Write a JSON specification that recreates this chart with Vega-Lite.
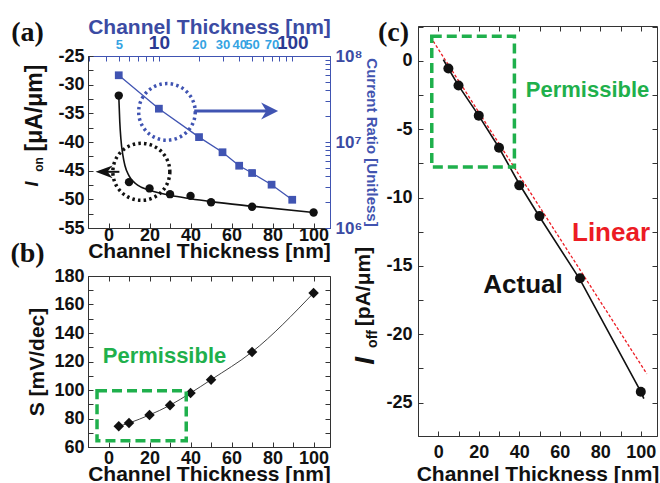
{
  "$schema": "https://vega.github.io/schema/vega-lite/v6.json",
  "background": "white",
  "padding": {"left": 9, "top": 15, "right": 0, "bottom": 0},
  "config": {
    "font": "Liberation Sans",
    "view": {"stroke": "#333", "strokeWidth": 1},
    "axis": {
      "labelFont": "Liberation Sans", "labelFontSize": 18, "labelFontWeight": "bold", "labelColor": "#111",
      "titleFont": "Liberation Sans", "titleFontSize": 21, "titleFontWeight": "bold", "titleColor": "#111",
      "domainColor": "#333", "tickColor": "#333", "tickSize": -5, "grid": false,
      "labelFlush": false, "labelOverlap": false
    },
    "text": {"font": "Liberation Sans"}
  },
  "datasets": {
    "a_on": [{"t":5,"v":-31.9},{"t":10,"v":-47.0},{"t":20,"v":-48.1},{"t":30,"v":-49.1},{"t":40,"v":-49.4},{"t":50,"v":-50.5},{"t":70,"v":-51.3},{"t":100,"v":-52.3}],
    "a_fit": [{"t":5,"v":-31.9},{"t":5.5,"v":-36.5},{"t":6,"v":-39.3},{"t":7,"v":-42.3},{"t":8,"v":-44.1},{"t":10,"v":-45.9},{"t":13,"v":-47.2},{"t":16,"v":-47.9},{"t":20,"v":-48.4},{"t":30,"v":-49.3},{"t":40,"v":-49.9},{"t":50,"v":-50.4},{"t":70,"v":-51.2},{"t":100,"v":-52.3}],
    "a_ratio": [{"t":5,"r":59700000},{"t":10,"r":24400000},{"t":20,"r":11400000},{"t":30,"r":7600000},{"t":40,"r":5300000},{"t":50,"r":4360000},{"t":70,"r":3190000},{"t":100,"r":2130000}],
    "a_ann": [
      {"kind":"circB","t":28.5,"v":-34.75},
      {"kind":"circK","t":16,"v":-45.2},
      {"kind":"shaftB","t":41.8,"t2":80,"v":-34.6},
      {"kind":"headB","t":82.7,"v":-34.6},
      {"kind":"shaftK","t":5.3,"t2":-4.5,"v":-45.2},
      {"kind":"headK","t":-6.3,"v":-45.2}
    ],
    "a_txt": [
      {"kind":"panel","t":-39.5,"v":-21.0,"s":"(a)"},
      {"kind":"I","t":-36.8,"v":-47.33,"s":"I"},
      {"kind":"sub","t":-34.0,"v":-43.93,"s":"on"},
      {"kind":"unit","t":-35.6,"v":-34.07,"s":"[μA/μm]"}
    ],
    "b_s": [{"t":5,"v":74.5},{"t":10,"v":76.8},{"t":20,"v":82.5},{"t":30,"v":89.3},{"t":40,"v":97.9},{"t":50,"v":107.2},{"t":70,"v":126.7},{"t":100,"v":168.1}],
    "b_rect": [{"t":-5.6,"t2":37.9,"v":64.4,"v2":99.5}],
    "b_txt": [
      {"kind":"panel","t":-39.5,"v":195.1,"s":"(b)"},
      {"kind":"perm","t":27.3,"v":123.6,"s":"Permissible"}
    ],
    "c_pts": [{"t":5,"v":-0.55},{"t":10,"v":-1.8},{"t":20,"v":-4.0},{"t":30,"v":-6.35},{"t":40,"v":-9.1},{"t":50,"v":-11.35},{"t":70,"v":-15.9},{"t":100,"v":-24.2}],
    "c_act": [{"t":2.5,"v":0.1},{"t":5,"v":-0.55},{"t":10,"v":-1.8},{"t":20,"v":-4.0},{"t":30,"v":-6.35},{"t":40,"v":-9.0},{"t":50,"v":-11.4},{"t":70,"v":-16.0},{"t":100,"v":-24.2},{"t":101.5,"v":-24.7}],
    "c_lin": [{"t":-2.5,"v":1.45},{"t":103,"v":-22.9}],
    "c_rect": [{"t":-3.2,"t2":37.6,"v":-7.76,"v2":1.81}],
    "c_txt": [
      {"kind":"panel","t":-22.1,"v":2.05,"s":"(c)"},
      {"kind":"perm","t":73.7,"v":-2.1,"s":"Permissible"},
      {"kind":"lin","t":85.3,"v":-12.6,"s":"Linear"},
      {"kind":"act","t":41.85,"v":-16.4,"s":"Actual"},
      {"kind":"I","t":-35.68,"v":-21.95,"s":"I"},
      {"kind":"sub","t":-32.22,"v":-20.34,"s":"off"},
      {"kind":"unit","t":-36.67,"v":-16.5,"s":"[pA/μm]"}
    ]
  },
  "spacing": -29,
  "hconcat": [
    {
      "bounds": "flush",
      "spacing": 0,
      "vconcat": [
        {"width": 242, "height": 30, "data": {"values": []}, "mark": "point", "view": {"stroke": null}},
        {
          "bounds": "flush",
          "spacing": 48,
          "vconcat": [
            {
              "width": 242, "height": 172,
              "resolve": {"scale": {"x": "independent", "y": "independent"}, "axis": {"x": "independent", "y": "independent"}},
              "layer": [
                {
                  "encoding": {
                    "x": {"field": "t", "type": "quantitative", "scale": {"domain": [-10, 108], "nice": false, "zero": false},
                      "axis": {"orient": "bottom", "title": "Channel Thickness [nm]", "values": [0,10,20,30,40,50,60,70,80,90,100],
                        "labelExpr": "datum.value % 20 == 0 ? '' + datum.value : ''", "labelPadding": 3, "titlePadding": -4}},
                    "y": {"field": "v", "type": "quantitative", "scale": {"domain": [-55, -25], "nice": false, "zero": false},
                      "axis": {"orient": "left", "title": null, "values": [-55,-52.5,-50,-47.5,-45,-42.5,-40,-37.5,-35,-32.5,-30,-27.5,-25],
                        "labelExpr": "datum.value % 5 == 0 ? '' + datum.value : ''", "labelPadding": 9}}
                  },
                  "layer": [
                    {"data": {"name": "a_fit"}, "mark": {"type": "line", "color": "#111", "strokeWidth": 1.6, "interpolate": "monotone"}},
                    {"data": {"name": "a_on"}, "mark": {"type": "point", "shape": "circle", "filled": true, "color": "#111", "size": 70, "opacity": 1}},
                    {"data": {"name": "a_ann"}, "transform": [{"filter": "datum.kind == 'circB'"}],
                      "mark": {"type": "point", "shape": "circle", "filled": false, "color": "#4054b2", "size": 3200, "strokeWidth": 3.5, "strokeDash": [2.5, 3.2], "opacity": 1}},
                    {"data": {"name": "a_ann"}, "transform": [{"filter": "datum.kind == 'circK'"}],
                      "mark": {"type": "point", "shape": "circle", "filled": false, "color": "#111", "size": 3250, "strokeWidth": 3.5, "strokeDash": [2.5, 3.2], "opacity": 1}},
                    {"data": {"name": "a_ann"}, "transform": [{"filter": "datum.kind == 'shaftB'"}],
                      "mark": {"type": "rule", "color": "#4054b2", "strokeWidth": 3}, "encoding": {"x2": {"field": "t2"}}},
                    {"data": {"name": "a_ann"}, "transform": [{"filter": "datum.kind == 'headB'"}],
                      "mark": {"type": "point", "shape": "M0,0L-2,-1L-1.4,0L-2,1Z", "filled": true, "color": "#4054b2", "size": 289, "opacity": 1}},
                    {"data": {"name": "a_ann"}, "transform": [{"filter": "datum.kind == 'shaftK'"}],
                      "mark": {"type": "rule", "color": "#111", "strokeWidth": 2}, "encoding": {"x2": {"field": "t2"}}},
                    {"data": {"name": "a_ann"}, "transform": [{"filter": "datum.kind == 'headK'"}],
                      "mark": {"type": "point", "shape": "M0,0L2,-0.75L1.4,0L2,0.75Z", "filled": true, "color": "#111", "size": 289, "opacity": 1}},
                    {"data": {"name": "a_txt"}, "transform": [{"filter": "datum.kind == 'panel'"}],
                      "mark": {"type": "text", "font": "Liberation Serif", "fontSize": 28, "fontWeight": "bold", "color": "#111", "align": "center", "baseline": "middle"},
                      "encoding": {"text": {"field": "s"}}},
                    {"data": {"name": "a_txt"}, "transform": [{"filter": "datum.kind == 'I'"}],
                      "mark": {"type": "text", "fontSize": 18, "fontWeight": "bold", "fontStyle": "italic", "color": "#111", "align": "center", "baseline": "middle", "angle": 270},
                      "encoding": {"text": {"field": "s"}}},
                    {"data": {"name": "a_txt"}, "transform": [{"filter": "datum.kind == 'sub'"}],
                      "mark": {"type": "text", "fontSize": 12, "fontWeight": "bold", "color": "#111", "align": "center", "baseline": "middle", "angle": 270},
                      "encoding": {"text": {"field": "s"}}},
                    {"data": {"name": "a_txt"}, "transform": [{"filter": "datum.kind == 'unit'"}],
                      "mark": {"type": "text", "fontSize": 23, "fontWeight": "bold", "color": "#111", "align": "center", "baseline": "middle", "angle": 270},
                      "encoding": {"text": {"field": "s"}}}
                  ]
                },
                {
                  "data": {"name": "a_ratio"},
                  "encoding": {
                    "x": {"field": "t", "type": "quantitative", "scale": {"type": "log", "domain": [2.94, 192], "nice": false},
                      "axis": {"orient": "top", "title": "Channel Thickness [nm]", "titleColor": "#3b4ba3", "titlePadding": -4,
                        "domainColor": "#4054b2", "tickColor": "#4054b2",
                        "values": [3,4,5,6,7,8,9,10,20,30,40,50,60,70,80,90,100],
                        "labelExpr": "indexof([5,10,20,30,40,50,70,100], datum.value) >= 0 ? '' + datum.value : ''",
                        "labelBaseline": "alphabetic", "labelPadding": 13,
                        "labelColor": {"condition": {"test": "datum.value == 10 || datum.value == 100", "value": "#2b3a92"}, "value": "#35a3e2"},
                        "labelFontSize": {"condition": {"test": "datum.value == 10 || datum.value == 100", "value": 19}, "value": 13},
                        "labelFontWeight": "bold"}},
                    "y": {"field": "r", "type": "quantitative", "scale": {"type": "log", "domain": [1000000, 100000000], "nice": false},
                      "axis": {"orient": "right", "title": "Current Ratio [Unitless]", "titleColor": "#4254b0", "titleFontSize": 15, "titlePadding": 2,
                        "labelColor": "#3b4ba3", "labelFontSize": 17, "labelPadding": 10, "domainColor": "#4054b2", "tickColor": "#4054b2",
                        "values": [1000000,2000000,3000000,4000000,5000000,6000000,7000000,8000000,9000000,10000000,20000000,30000000,40000000,50000000,60000000,70000000,80000000,90000000,100000000],
                        "labelExpr": "datum.value == 1000000 ? '10⁶' : datum.value == 10000000 ? '10⁷' : datum.value == 100000000 ? '10⁸' : ''"}}
                  },
                  "layer": [
                    {"mark": {"type": "line", "color": "#4054b2", "strokeWidth": 1.3}},
                    {"mark": {"type": "point", "shape": "square", "filled": true, "color": "#4054b2", "size": 60, "opacity": 1}}
                  ]
                }
              ]
            },
            {
              "width": 242, "height": 171,
              "resolve": {"axis": {"x": "independent", "y": "independent"}},
              "layer": [
                {
                  "encoding": {
                    "x": {"field": "t", "type": "quantitative", "scale": {"domain": [-10, 108], "nice": false, "zero": false},
                      "axis": {"orient": "bottom", "title": "Channel Thickness [nm]", "values": [0,10,20,30,40,50,60,70,80,90,100],
                        "labelExpr": "datum.value % 20 == 0 ? '' + datum.value : ''", "labelPadding": 7, "titlePadding": -4}},
                    "y": {"field": "v", "type": "quantitative", "scale": {"domain": [60, 180], "nice": false, "zero": false},
                      "axis": {"orient": "left", "title": "S [mV/dec]", "values": [60,70,80,90,100,110,120,130,140,150,160,170,180],
                        "labelExpr": "datum.value % 20 == 0 ? '' + datum.value : ''", "labelPadding": 9, "titlePadding": 6}}
                  },
                  "layer": [
                    {"data": {"name": "b_s"}, "mark": {"type": "line", "color": "#444", "strokeWidth": 1, "interpolate": "monotone"}},
                    {"data": {"name": "b_s"}, "mark": {"type": "point", "shape": "diamond", "filled": true, "color": "#111", "size": 110, "opacity": 1}},
                    {"data": {"name": "b_rect"}, "mark": {"type": "rect", "fill": "transparent", "stroke": "#1fb04c", "strokeWidth": 3.5, "strokeDash": [10, 5]},
                      "encoding": {"x2": {"field": "t2"}, "y2": {"field": "v2"}}},
                    {"data": {"name": "b_txt"}, "transform": [{"filter": "datum.kind == 'perm'"}],
                      "mark": {"type": "text", "fontSize": 22, "fontWeight": "bold", "color": "#1fb04c", "align": "center", "baseline": "middle"},
                      "encoding": {"text": {"field": "s"}}},
                    {"data": {"name": "b_txt"}, "transform": [{"filter": "datum.kind == 'panel'"}],
                      "mark": {"type": "text", "font": "Liberation Serif", "fontSize": 28, "fontWeight": "bold", "color": "#111", "align": "center", "baseline": "middle"},
                      "encoding": {"text": {"field": "s"}}}
                  ]
                },
                {
                  "data": {"name": "b_s"},
                  "mark": {"type": "point", "opacity": 0},
                  "encoding": {
                    "x": {"field": "t", "type": "quantitative", "scale": {"domain": [-10, 108], "nice": false, "zero": false},
                      "axis": {"orient": "top", "labels": false, "title": null, "domain": false, "values": [0,10,20,30,40,50,60,70,80,90,100]}},
                    "y": {"field": "v", "type": "quantitative", "scale": {"domain": [60, 180], "nice": false, "zero": false},
                      "axis": {"orient": "right", "labels": false, "title": null, "domain": false, "values": [60,70,80,90,100,110,120,130,140,150,160,170,180]}}
                  }
                }
              ]
            }
          ]
        }
      ]
    },
    {
      "width": 239, "height": 410,
      "resolve": {"axis": {"x": "independent", "y": "independent"}},
      "layer": [
        {
          "encoding": {
            "x": {"field": "t", "type": "quantitative", "scale": {"domain": [-10, 108], "nice": false, "zero": false},
              "axis": {"orient": "bottom", "title": "Channel Thickness [nm]", "values": [0,10,20,30,40,50,60,70,80,90,100],
                "labelExpr": "datum.value % 20 == 0 ? '' + datum.value : ''", "labelPadding": 12, "titlePadding": 2}},
            "y": {"field": "v", "type": "quantitative", "scale": {"domain": [-27.44, 2.56], "nice": false, "zero": false},
              "axis": {"orient": "left", "title": null, "values": [-25,-22.5,-20,-17.5,-15,-12.5,-10,-7.5,-5,-2.5,0,2.5],
                "labelExpr": "datum.value % 5 == 0 ? '' + datum.value : ''", "labelPadding": 11}}
          },
          "layer": [
            {"data": {"name": "c_lin"}, "mark": {"type": "line", "color": "#ec1c24", "strokeWidth": 1.3, "strokeDash": [3, 2]}},
            {"data": {"name": "c_act"}, "mark": {"type": "line", "color": "#111", "strokeWidth": 1.6}},
            {"data": {"name": "c_pts"}, "mark": {"type": "point", "shape": "circle", "filled": true, "color": "#111", "size": 100, "opacity": 1}},
            {"data": {"name": "c_rect"}, "mark": {"type": "rect", "fill": "transparent", "stroke": "#1fb04c", "strokeWidth": 3.5, "strokeDash": [10, 5]},
              "encoding": {"x2": {"field": "t2"}, "y2": {"field": "v2"}}},
            {"data": {"name": "c_txt"}, "transform": [{"filter": "datum.kind == 'perm'"}],
              "mark": {"type": "text", "fontSize": 22, "fontWeight": "bold", "color": "#1fb04c", "align": "center", "baseline": "middle"},
              "encoding": {"text": {"field": "s"}}},
            {"data": {"name": "c_txt"}, "transform": [{"filter": "datum.kind == 'lin'"}],
              "mark": {"type": "text", "fontSize": 26, "fontWeight": "bold", "color": "#ec1c24", "align": "center", "baseline": "middle"},
              "encoding": {"text": {"field": "s"}}},
            {"data": {"name": "c_txt"}, "transform": [{"filter": "datum.kind == 'act'"}],
              "mark": {"type": "text", "fontSize": 26, "fontWeight": "bold", "color": "#111", "align": "center", "baseline": "middle"},
              "encoding": {"text": {"field": "s"}}},
            {"data": {"name": "c_txt"}, "transform": [{"filter": "datum.kind == 'panel'"}],
              "mark": {"type": "text", "font": "Liberation Serif", "fontSize": 28, "fontWeight": "bold", "color": "#111", "align": "center", "baseline": "middle"},
              "encoding": {"text": {"field": "s"}}},
            {"data": {"name": "c_txt"}, "transform": [{"filter": "datum.kind == 'I'"}],
              "mark": {"type": "text", "fontSize": 28, "fontWeight": "bold", "fontStyle": "italic", "color": "#111", "align": "center", "baseline": "middle", "angle": 270},
              "encoding": {"text": {"field": "s"}}},
            {"data": {"name": "c_txt"}, "transform": [{"filter": "datum.kind == 'sub'"}],
              "mark": {"type": "text", "fontSize": 14, "fontWeight": "bold", "color": "#111", "align": "center", "baseline": "middle", "angle": 270},
              "encoding": {"text": {"field": "s"}}},
            {"data": {"name": "c_txt"}, "transform": [{"filter": "datum.kind == 'unit'"}],
              "mark": {"type": "text", "fontSize": 21, "fontWeight": "bold", "color": "#111", "align": "center", "baseline": "middle", "angle": 270},
              "encoding": {"text": {"field": "s"}}}
          ]
        },
        {
          "data": {"name": "c_pts"},
          "mark": {"type": "point", "opacity": 0},
          "encoding": {
            "x": {"field": "t", "type": "quantitative", "scale": {"domain": [-10, 108], "nice": false, "zero": false},
              "axis": {"orient": "top", "labels": false, "title": null, "domain": false, "values": [0,10,20,30,40,50,60,70,80,90,100]}},
            "y": {"field": "v", "type": "quantitative", "scale": {"domain": [-27.44, 2.56], "nice": false, "zero": false},
              "axis": {"orient": "right", "labels": false, "title": null, "domain": false, "values": [-25,-22.5,-20,-17.5,-15,-12.5,-10,-7.5,-5,-2.5,0,2.5]}}
          }
        }
      ]
    }
  ]
}
